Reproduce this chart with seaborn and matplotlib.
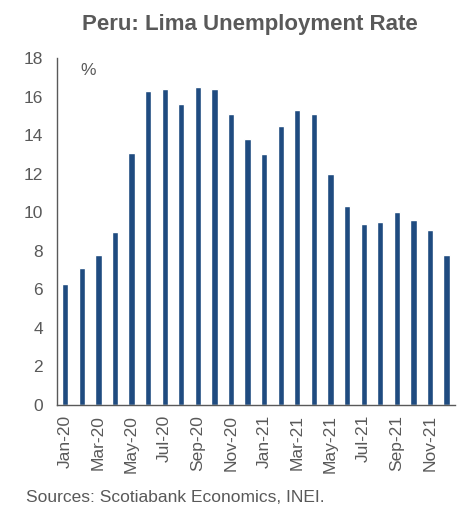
import matplotlib
matplotlib.use("Agg")
import matplotlib.pyplot as plt
import seaborn as sns
import pandas as pd
import numpy as np

months = ["Jan-20", "Feb-20", "Mar-20", "Apr-20", "May-20", "Jun-20", "Jul-20", "Aug-20",
          "Sep-20", "Oct-20", "Nov-20", "Dec-20", "Jan-21", "Feb-21", "Mar-21", "Apr-21",
          "May-21", "Jun-21", "Jul-21", "Aug-21", "Sep-21", "Oct-21", "Nov-21", "Dec-21"]
rates = [6.3, 7.1, 7.8, 9.0, 13.1, 16.3, 16.4, 15.6, 16.5, 16.4, 15.1, 13.8,
         13.0, 14.5, 15.3, 15.1, 12.0, 10.3, 9.4, 9.5, 10.0, 9.6, 9.1, 7.8]
y_ticks = [0, 2, 4, 6, 8, 10, 12, 14, 16, 18]

sns.set_style("white")
plt.rcParams['font.family'] = ['Liberation Sans', 'DejaVu Sans']
gray = "#595959"

df = pd.DataFrame({"month": months, "rate": rates})

fig = plt.figure(figsize=(4.59, 5.11), dpi=100)
ax = fig.add_axes([0.124, 0.2074, 0.867, 0.679])
sns.barplot(data=df, x="month", y="rate", color="#1f4b80", saturation=1,
            width=0.38, ax=ax)

ax.set_xlim(-0.5, len(months) - 0.5)
ax.set_ylim(0, 18)
ax.set_yticks(y_ticks)
ax.set_yticklabels([str(v) for v in y_ticks], fontsize=12.5, color=gray)
ax.tick_params(axis='y', direction='in', length=4, color=gray, width=1, pad=10)

major = list(range(0, len(months), 2))
ax.set_xticks(major)
ax.set_xticklabels([months[i] for i in major], rotation=90, fontsize=12.5, color=gray)
ax.set_xticks([i - 0.5 for i in major], minor=True)
ax.tick_params(axis='x', which='major', length=0, pad=7)
ax.tick_params(axis='x', which='minor', direction='out', length=5, color=gray, width=1)

ax.set_xlabel("")
ax.set_ylabel("")
for s in ["top", "right"]:
    ax.spines[s].set_visible(False)
for s in ["left", "bottom"]:
    ax.spines[s].set_color(gray)
    ax.spines[s].set_linewidth(1)

ax.text(0.06, 0.985, "%", transform=ax.transAxes, fontsize=12.5, color=gray, va="top", ha="left")

fig.text(0.545, 0.953, "Peru: Lima Unemployment Rate", ha="center", va="center",
         fontsize=16, fontweight="bold", color=gray)
fig.text(0.057, 0.027, "Sources: Scotiabank Economics, INEI.", ha="left", va="center",
         fontsize=12.5, color=gray)

fig.savefig("out.png", dpi=100)
